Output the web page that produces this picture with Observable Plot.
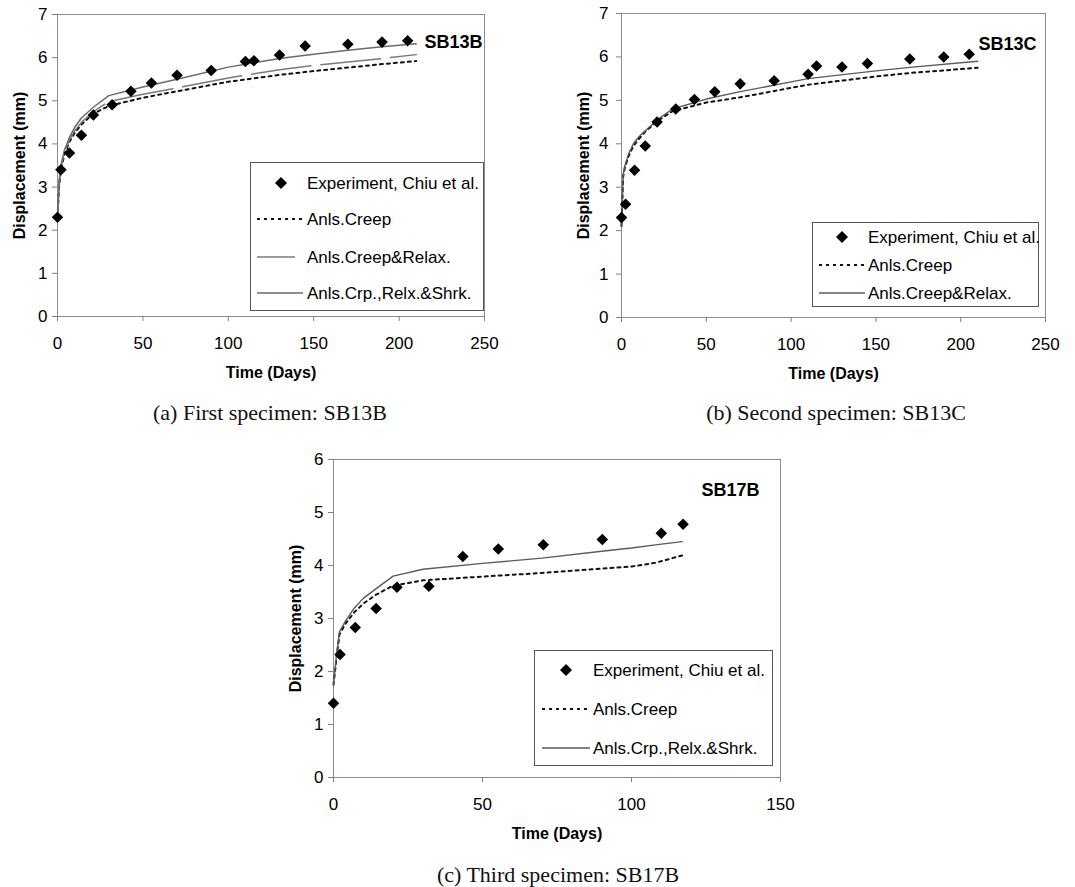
<!DOCTYPE html>
<html><head><meta charset="utf-8">
<script src="https://cdn.jsdelivr.net/npm/d3@7"></script>
<script src="https://cdn.jsdelivr.net/npm/@observablehq/plot@0.6"></script>
<style>
body{margin:0;background:#fff;}
#wrap{position:relative;width:1075px;height:887px;overflow:hidden;font-family:"Liberation Sans",Arial,sans-serif;}
.panel{position:absolute;}
.panel svg{overflow:visible;}
.cap{position:absolute;font-family:"Liberation Serif","Times New Roman",serif;font-size:22px;color:#111;transform:translate(-50%,-50%);white-space:nowrap;}
g[aria-label="x-axis label"], g[aria-label="y-axis label"]{font-weight:bold;font-size:16px;}
.leg{position:absolute;}
</style>
</head><body><div id="wrap"></div>
<script>
// ---------- Data: (a) SB13B ----------
const tA_exp = [0, 2, 7, 14, 21, 32, 43, 55, 70, 90, 110, 115, 130, 145, 170, 190, 205];
const dA_exp = [2.3, 3.4, 3.79, 4.2, 4.67, 4.91, 5.22, 5.41, 5.59, 5.7, 5.91, 5.93, 6.06, 6.27, 6.31, 6.36, 6.39];
const tA_line = [0, 1, 2, 4, 7, 10, 14, 21, 30, 50, 70, 100, 130, 150, 170, 190, 210];
const dA_creep = [2.3, 3.05, 3.4, 3.75, 4.05, 4.25, 4.45, 4.7, 4.88, 5.07, 5.22, 5.44, 5.6, 5.69, 5.77, 5.85, 5.92];
const dA_relax = [2.3, 3.1, 3.45, 3.8, 4.1, 4.3, 4.5, 4.75, 4.98, 5.15, 5.3, 5.53, 5.72, 5.82, 5.9, 5.98, 6.07];
const dA_shrk  = [2.3, 3.15, 3.5, 3.85, 4.15, 4.38, 4.6, 4.85, 5.12, 5.32, 5.5, 5.78, 5.98, 6.08, 6.17, 6.25, 6.32];

// ---------- Data: (b) SB13C ----------
const tB_exp = [0, 2.4, 7.7, 14, 21, 32, 43, 55, 70, 90, 110, 115, 130, 145, 170, 190, 205];
const dB_exp = [2.3, 2.61, 3.39, 3.95, 4.5, 4.8, 5.02, 5.2, 5.38, 5.45, 5.6, 5.79, 5.77, 5.85, 5.95, 6.0, 6.06];
const tB_line = [0, 1, 2, 4, 7, 10, 14, 21, 30, 50, 70, 110, 150, 170, 210];
const dB_creep = [2.1, 3.25, 3.45, 3.7, 3.95, 4.1, 4.28, 4.52, 4.75, 4.95, 5.07, 5.36, 5.55, 5.63, 5.75];
const dB_relax = [2.1, 3.3, 3.5, 3.75, 4.0, 4.15, 4.3, 4.55, 4.8, 5.03, 5.2, 5.5, 5.68, 5.76, 5.9];

// ---------- Data: (c) SB17B ----------
const tC_exp = [0, 2.2, 7.3, 14.3, 21.3, 32, 43.4, 55.3, 70.4, 90.2, 110, 117.3];
const dC_exp = [1.4, 2.32, 2.83, 3.19, 3.59, 3.61, 4.17, 4.31, 4.39, 4.49, 4.61, 4.78];
const tC_line = [0, 1, 2, 4, 7, 10, 14, 20, 30, 50, 70, 90, 100, 108, 117];
const dC_creep = [1.75, 2.25, 2.7, 2.9, 3.12, 3.28, 3.44, 3.62, 3.72, 3.79, 3.86, 3.94, 3.98, 4.05, 4.19];
const dC_shrk  = [1.75, 2.3, 2.75, 2.95, 3.2, 3.38, 3.55, 3.8, 3.93, 4.04, 4.14, 4.27, 4.33, 4.39, 4.45];

// ---------- Labels ----------
const xLabel = "Time (Days)";
const yLabel = "Displacement (mm)";
const expName = "Experiment, Chiu et al.";
const creepName = "Anls.Creep";
const relaxName = "Anls.Creep&Relax.";
const shrkName = "Anls.Crp.,Relx.&Shrk.";
const ticksX250 = [0, 50, 100, 150, 200, 250];
const ticksX150 = [0, 50, 100, 150];
const ticksY7 = [0, 1, 2, 3, 4, 5, 6, 7];
const ticksY6 = [0, 1, 2, 3, 4, 5, 6];

const zip = (t, v) => t.map((x, i) => ({t: x, v: v[i]}));

const STY = {
  creep: {stroke: "#111", strokeWidth: 2, strokeDasharray: "3,4"},
  relax: {stroke: "#7a7a7a", strokeWidth: 1.5, strokeDasharray: "60,10"},
  shrk:  {stroke: "#6a6a6a", strokeWidth: 1.5},
  relaxSolid: {stroke: "#5a5a5a", strokeWidth: 1.4}
};

const wrap = document.getElementById("wrap");

function panel(cfg) {
  const marks = [
    Plot.frame({stroke: "#8c8c8c"}),
    Plot.axisX({ticks: cfg.xTicks, tickFormat: d => String(d), tickSize: 5, tickPadding: 15, stroke: "#808080", fill: "#000",
      label: xLabel, labelAnchor: "center", labelOffset: 61, labelArrow: "none"}),
    Plot.axisY({ticks: cfg.yTicks, tickFormat: d => String(d), tickSize: 5, tickPadding: cfg.yPad, stroke: "#808080", fill: "#000",
      label: yLabel, labelAnchor: "center", labelOffset: 44, labelArrow: "none"})
  ];
  for (const s of cfg.lines) {
    marks.push(Plot.line(s.data, {x: "t", y: "v", ...s.style}));
  }
  marks.push(Plot.dot(cfg.exp, {x: "t", y: "v", symbol: "diamond2", r: 5.2, fill: "#000", stroke: "none"}));
  marks.push(Plot.text([cfg.name], {text: d => d, frameAnchor: "top-right", textAnchor: "end",
    dx: cfg.nameDx, dy: cfg.nameDy, fontWeight: "bold", fontSize: 18, fill: "#000"}));
  const svg = Plot.plot({
    width: cfg.w, height: cfg.h,
    marginLeft: cfg.m[0], marginTop: cfg.m[1], marginRight: cfg.m[2], marginBottom: cfg.m[3],
    style: {fontFamily: "'Liberation Sans', Arial, sans-serif", fontSize: "17px", color: "#000", background: "transparent"},
    x: {domain: cfg.xDomain},
    y: {domain: cfg.yDomain},
    marks
  });
  const div = document.createElement("div");
  div.className = "panel";
  div.style.left = cfg.left + "px";
  div.style.top = cfg.top + "px";
  div.appendChild(svg);
  wrap.appendChild(div);
}

function legend(cfg) {
  const svg = d3.create("svg").attr("width", cfg.w).attr("height", cfg.h)
    .attr("class", "leg").style("left", cfg.left + "px").style("top", cfg.top + "px");
  svg.append("rect").attr("x", 0.5).attr("y", 0.5).attr("width", cfg.w - 1).attr("height", cfg.h - 1)
    .attr("fill", "#fff").attr("stroke", "#555").attr("stroke-width", 1);
  cfg.rows.forEach(r => {
    if (r.kind === "dot") {
      const s = 6;
      svg.append("path").attr("d", `M${cfg.mx},${r.y - s}L${cfg.mx + s},${r.y}L${cfg.mx},${r.y + s}L${cfg.mx - s},${r.y}Z`).attr("fill", "#000");
    } else {
      svg.append("line").attr("x1", r.x1).attr("x2", r.x2).attr("y1", r.y).attr("y2", r.y)
        .attr("stroke", r.style.stroke).attr("stroke-width", r.style.strokeWidth)
        .attr("stroke-dasharray", r.style.strokeDasharray || null);
    }
    svg.append("text").attr("x", cfg.tx).attr("y", r.y).attr("dy", "0.35em")
      .attr("font-family", "'Liberation Sans', Arial, sans-serif").attr("font-size", 17)
      .attr("fill", "#000").text(r.label);
  });
  wrap.appendChild(svg.node());
}

function caption(text, x, y) {
  const d = document.createElement("div");
  d.className = "cap";
  d.style.left = x + "px"; d.style.top = y + "px";
  d.textContent = text;
  wrap.appendChild(d);
}

// (a)
panel({left: 0, top: 0, w: 540, h: 385, m: [57, 14, 56, 69], xDomain: [0, 250], yDomain: [0, 7],
  xTicks: ticksX250, yTicks: ticksY7, yPad: 5, name: "SB13B", nameDx: -2, nameDy: 21,
  exp: zip(tA_exp, dA_exp),
  lines: [
    {data: zip(tA_line, dA_creep), style: STY.creep},
    {data: zip(tA_line, dA_relax), style: STY.relax},
    {data: zip(tA_line, dA_shrk), style: STY.shrk}
  ]});
legend({left: 250, top: 162, w: 234, h: 149, mx: 31, tx: 57, rows: [
  {kind: "dot", y: 21, label: expName},
  {kind: "line", y: 57, x1: 7, x2: 53, style: STY.creep, label: creepName},
  {kind: "line", y: 95, x1: 7, x2: 45, style: STY.relax, label: relaxName},
  {kind: "line", y: 131, x1: 7, x2: 53, style: STY.shrk, label: shrkName}
]});
caption("(a) First specimen: SB13B", 270, 413);

// (b)
panel({left: 540, top: 0, w: 535, h: 385, m: [81, 13, 30, 68], xDomain: [0, 250], yDomain: [0, 7],
  xTicks: ticksX250, yTicks: ticksY7, yPad: 8, name: "SB13C", nameDx: -9, nameDy: 24,
  exp: zip(tB_exp, dB_exp),
  lines: [
    {data: zip(tB_line, dB_creep), style: STY.creep},
    {data: zip(tB_line, dB_relax), style: STY.relaxSolid}
  ]});
legend({left: 812, top: 222, w: 227, h: 85, mx: 30, tx: 56, rows: [
  {kind: "dot", y: 15, label: expName},
  {kind: "line", y: 43, x1: 7, x2: 53, style: STY.creep, label: creepName},
  {kind: "line", y: 71, x1: 7, x2: 53, style: STY.relaxSolid, label: relaxName}
]});
caption("(b) Second specimen: SB13C", 836, 413);

// (c)
panel({left: 240, top: 440, w: 600, h: 400, m: [93, 19, 60, 63], xDomain: [0, 150], yDomain: [0, 6],
  xTicks: ticksX150, yTicks: ticksY6, yPad: 5, name: "SB17B", nameDx: -21, nameDy: 24,
  exp: zip(tC_exp, dC_exp),
  lines: [
    {data: zip(tC_line, dC_creep), style: STY.creep},
    {data: zip(tC_line, dC_shrk), style: STY.relaxSolid}
  ]});
legend({left: 534, top: 650, w: 239, h: 116, mx: 32, tx: 59, rows: [
  {kind: "dot", y: 20, label: expName},
  {kind: "line", y: 59, x1: 8, x2: 56, style: STY.creep, label: creepName},
  {kind: "line", y: 98, x1: 8, x2: 56, style: STY.relaxSolid, label: shrkName}
]});
caption("(c) Third specimen: SB17B", 558, 875);
</script>
</body></html>
